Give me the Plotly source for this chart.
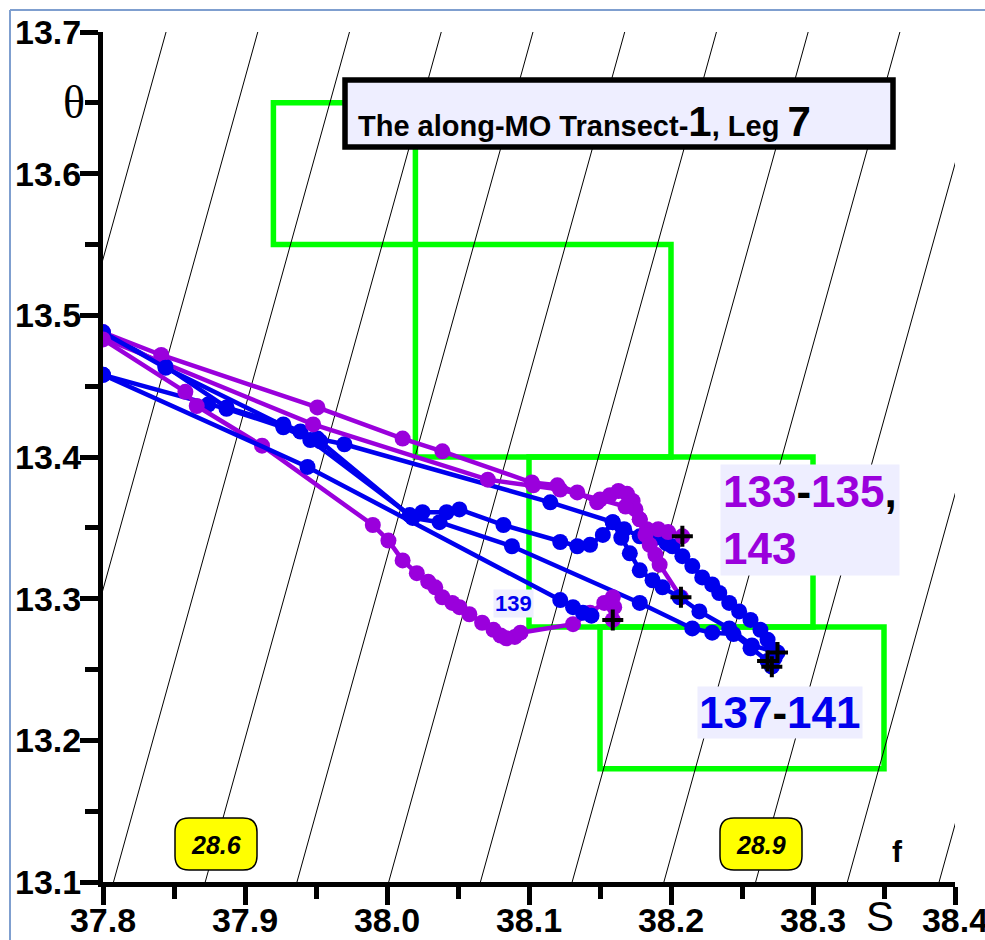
import plotly.graph_objects as go

# ---------------- data ----------------
# Purple casts (133-135, 143)
P1_S = [37.800, 37.841, 37.951, 38.011, 38.039, 38.102, 38.120, 38.134, 38.148, 38.157, 38.163, 38.169,
        38.173, 38.175, 38.178, 38.183, 38.191, 38.198, 38.208]
P1_T = [13.488, 13.472, 13.435, 13.413, 13.404, 13.382, 13.380, 13.375, 13.368, 13.373, 13.376, 13.374,
        13.369, 13.363, 13.356, 13.349, 13.349, 13.347, 13.344]

P2_S = [37.800, 37.948, 38.071, 38.103, 38.122, 38.150, 38.168, 38.178, 38.182, 38.185, 38.189, 38.192, 38.207]
P2_T = [13.484, 13.423, 13.384, 13.380, 13.377, 13.370, 13.365, 13.356, 13.345, 13.338, 13.331, 13.324, 13.301]

P3_S = [37.800, 37.858, 37.866, 37.912, 37.990, 38.001, 38.011, 38.021, 38.029, 38.034, 38.039, 38.046,
        38.051, 38.058, 38.067, 38.075, 38.080, 38.084, 38.090, 38.094, 38.131, 38.143, 38.153, 38.159,
        38.160, 38.159]
P3_T = [13.483, 13.446, 13.436, 13.408, 13.352, 13.341, 13.327, 13.318, 13.312, 13.308, 13.301, 13.297,
        13.294, 13.289, 13.283, 13.278, 13.274, 13.272, 13.273, 13.276, 13.282, 13.290, 13.297, 13.301,
        13.294, 13.285]

# Blue casts (137-141)
BA_S = [37.800, 37.844, 37.887, 37.927, 37.939, 37.951, 37.970, 38.115, 38.159, 38.167, 38.178, 38.189,
        38.197, 38.201, 38.208, 38.215, 38.222, 38.229, 38.234, 38.241, 38.248, 38.256, 38.263, 38.268,
        38.272, 38.273, 38.271]
BA_T = [13.488, 13.464, 13.435, 13.423, 13.418, 13.413, 13.409, 13.368, 13.354, 13.349, 13.344, 13.343,
        13.339, 13.337, 13.330, 13.323, 13.315, 13.310, 13.304, 13.297, 13.291, 13.285, 13.278, 13.271,
        13.264, 13.258, 13.252]

BB_S = [37.800, 37.874, 37.887, 37.927, 37.946, 38.016, 38.025, 38.042, 38.051, 38.082, 38.122, 38.134,
        38.143, 38.152, 38.159, 38.165, 38.171, 38.178, 38.187, 38.194, 38.206, 38.220, 38.241, 38.257,
        38.275]
BB_T = [13.458, 13.437, 13.434, 13.421, 13.412, 13.359, 13.361, 13.361, 13.363, 13.352, 13.340, 13.337,
        13.338, 13.345, 13.354, 13.343, 13.332, 13.320, 13.313, 13.308, 13.301, 13.291, 13.279, 13.267,
        13.262]

BC_S = [37.800, 37.844, 37.927, 37.953, 38.018, 38.037, 38.088, 38.178, 38.215, 38.229, 38.244, 38.256,
        38.268]
BC_T = [13.488, 13.463, 13.422, 13.411, 13.357, 13.354, 13.337, 13.297, 13.279, 13.276, 13.275, 13.265,
        13.256]

B139_S = [37.800, 37.944, 38.122, 38.131, 38.138, 38.144]
B139_T = [13.458, 13.393, 13.299, 13.294, 13.290, 13.288]

# Isopycnal levels (sigma-theta) drawn as background
SIGMA_LEVELS = [28.45, 28.50, 28.55, 28.60, 28.65, 28.70, 28.75, 28.80, 28.85, 28.90, 28.95, 29.00]
SIGMA_LABELS = ["28.6", "28.9"]

# Water-mass boxes (S0, S1, T0, T1)
BOXES = [(37.92, 38.02, 13.55, 13.65),
         (38.02, 38.20, 13.40, 13.55),
         (38.10, 38.30, 13.28, 13.40),
         (38.15, 38.35, 13.18, 13.28)]

X_TICKS = [37.8, 37.9, 38.0, 38.1, 38.2, 38.3, 38.4]
Y_TICKS = [13.1, 13.2, 13.3, 13.4, 13.5, 13.6, 13.7]

# ---------------- figure ----------------
PURPLE = "#9A00DC"
BLUE = "#0000EE"
W, H = 985, 940
L, R, T, B = 103, 30, 32, 58
XR = (37.8, 38.4)
YR = (13.1, 13.7)

fig = go.Figure()

# linearised density for isopycnals
S_REF, T_REF, SIG_REF = 37.872, 13.1, 28.6
BETA, ALPHA = 0.774, 0.2144
for sg in SIGMA_LEVELS:
    th = [YR[0], YR[1]]
    ss = [S_REF + (sg - SIG_REF + ALPHA * (t - T_REF)) / BETA for t in th]
    fig.add_trace(go.Scatter(x=ss, y=th, mode="lines", line=dict(color="black", width=1),
                             hoverinfo="skip", showlegend=False))

series = [(BA_S, BA_T, BLUE, True), (P1_S, P1_T, PURPLE, True), (P2_S, P2_T, PURPLE, True),
          (BB_S, BB_T, BLUE, True), (BC_S, BC_T, BLUE, True), (P3_S, P3_T, PURPLE, True),
          (B139_S, B139_T, BLUE, False)]
for s, t, c, _ in series:
    fig.add_trace(go.Scatter(x=s, y=t, mode="lines+markers",
                             line=dict(color=c, width=4.5),
                             marker=dict(color=c, size=16),
                             showlegend=False))

end_s = [s[-1] for s, t, c, e in series if e]
end_t = [t[-1] for s, t, c, e in series if e]
fig.add_trace(go.Scatter(x=end_s, y=end_t, mode="markers",
                         marker=dict(symbol="cross-thin", size=15, line=dict(width=4, color="black")),
                         showlegend=False))

# green boxes
for x0, x1, y0, y1 in BOXES:
    fig.add_shape(type="rect", x0=x0, x1=x1, y0=y0, y1=y1, xref="x", yref="y",
                  line=dict(color="#00FF00", width=5.5), layer="below")

def px2x(p):
    return XR[0] + (p - L) / (W - L - R) * (XR[1] - XR[0])

def py2y(p):
    return YR[1] - (p - T) / (H - T - B) * (YR[1] - YR[0])

# title box
fig.add_shape(type="rect", x0=px2x(345), x1=px2x(893), y0=py2y(147), y1=py2y(80),
              xref="x", yref="y", line=dict(color="black", width=5.5), fillcolor="#EEEEFF", layer="above")
fig.add_annotation(x=px2x(356), y=py2y(121), xref="x", yref="y", xanchor="left", yanchor="middle",
                   showarrow=False,
                   text="The along-MO Transect-<span style='font-size:42px'>1</span>, Leg <span style='font-size:42px'>7</span>",
                   font=dict(family="Liberation Sans, Arial", size=29, color="black", weight="bold"))

# rounded yellow sigma labels
def rounded_rect(cx, cy, hw, hh, r):
    x0, x1 = px2x(cx - hw), px2x(cx + hw)
    y0, y1 = py2y(cy + hh), py2y(cy - hh)
    rx = px2x(cx + r) - px2x(cx)
    ry = py2y(cy) - py2y(cy + r)
    return (f"M {x0+rx},{y0} L {x1-rx},{y0} Q {x1},{y0} {x1},{y0+ry} L {x1},{y1-ry} "
            f"Q {x1},{y1} {x1-rx},{y1} L {x0+rx},{y1} Q {x0},{y1} {x0},{y1-ry} L {x0},{y0+ry} "
            f"Q {x0},{y0} {x0+rx},{y0} Z")

for lab, cx in zip(SIGMA_LABELS, [216, 761]):
    fig.add_shape(type="path", path=rounded_rect(cx, 844, 41, 26, 14), xref="x", yref="y",
                  line=dict(color="black", width=1.5), fillcolor="#FFFF00", layer="above")
    fig.add_annotation(x=px2x(cx), y=py2y(845), xref="x", yref="y", showarrow=False,
                       text=f"<i>{lab}</i>",
                       font=dict(family="Liberation Sans, Arial", size=25, color="black", weight="bold"))

# cast labels
fig.add_annotation(x=px2x(720), y=py2y(520), xref="x", yref="y", xanchor="left", yanchor="middle",
                   showarrow=False, align="left", bgcolor="#EEEEFF", borderpad=2,
                   text=f"<span style='color:{PURPLE}'>133</span>-<span style='color:{PURPLE}'>135</span>,<br>"
                        f"<span style='color:{PURPLE}'>143</span>",
                   font=dict(family="Liberation Sans, Arial", size=44, color="black", weight="bold"))
fig.add_annotation(x=px2x(780), y=py2y(712), xref="x", yref="y", showarrow=False, bgcolor="#EEEEFF",
                   text=f"<span style='color:{BLUE}'>137</span>-<span style='color:{BLUE}'>141</span>",
                   font=dict(family="Liberation Sans, Arial", size=44, color="black", weight="bold"))
fig.add_annotation(x=px2x(513), y=py2y(603), xref="x", yref="y", showarrow=False, bgcolor="#EEEEFF",
                   text="139", font=dict(family="Liberation Sans, Arial", size=22, color=BLUE, weight="bold"))
fig.add_annotation(x=px2x(897), y=py2y(851), xref="x", yref="y", showarrow=False,
                   text="f", font=dict(family="Liberation Sans, Arial", size=30, color="black", weight="bold"))

# axis symbols
fig.add_annotation(x=(61 - L) / (W - L - R), y=13.65, xref="paper", yref="y", showarrow=False,
                   text="θ", font=dict(family="Liberation Serif, Times New Roman", size=46, color="black"))
fig.add_annotation(x=px2x(880), y=(H - B - 916) / (H - T - B), xref="x", yref="paper", showarrow=False,
                   yanchor="middle", text="S",
                   font=dict(family="Liberation Sans, Arial", size=42, color="black"))

# thin outer frame (left and top)
pw, ph = W - L - R, H - T - B
fig.add_shape(type="line", xref="paper", yref="paper", x0=(10 - L) / pw, x1=(10 - L) / pw,
              y0=(H - B - 10) / ph, y1=(H - B - 940) / ph, line=dict(color="#7F9FCF", width=2))
fig.add_shape(type="line", xref="paper", yref="paper", x0=(10 - L) / pw, x1=(985 - L) / pw,
              y0=(H - B - 10) / ph, y1=(H - B - 10) / ph, line=dict(color="#7F9FCF", width=2))

tickfont = dict(family="Liberation Sans, Arial", size=34, color="black", weight="bold")
fig.update_xaxes(range=list(XR), showgrid=False, zeroline=False, showline=True, linewidth=5,
                 linecolor="black", ticks="outside", ticklen=18, tickwidth=5, tickcolor="black",
                 tickvals=X_TICKS, ticktext=[f"{v:.1f}" for v in X_TICKS], tickfont=tickfont,
                 minor=dict(dtick=0.05, ticks="outside", ticklen=12, tickwidth=5, tickcolor="black",
                            showgrid=False),
                 ticklabelstandoff=-14, automargin=False, ticklabeloverflow="allow")
fig.update_yaxes(range=list(YR), showgrid=False, zeroline=False, showline=True, linewidth=5,
                 linecolor="black", ticks="outside", ticklen=18, tickwidth=5, tickcolor="black",
                 tickvals=Y_TICKS, ticktext=[f"{v:.1f}" for v in Y_TICKS], tickfont=tickfont,
                 minor=dict(dtick=0.05, ticks="outside", ticklen=13, tickwidth=5, tickcolor="black",
                            showgrid=False),
                 ticklabelstandoff=-8, automargin=False, ticklabeloverflow="allow")

fig.update_layout(width=W, height=H, margin=dict(l=L, r=R, t=T, b=B),
                  paper_bgcolor="white", plot_bgcolor="white", showlegend=False)

fig.write_html("out.html")
